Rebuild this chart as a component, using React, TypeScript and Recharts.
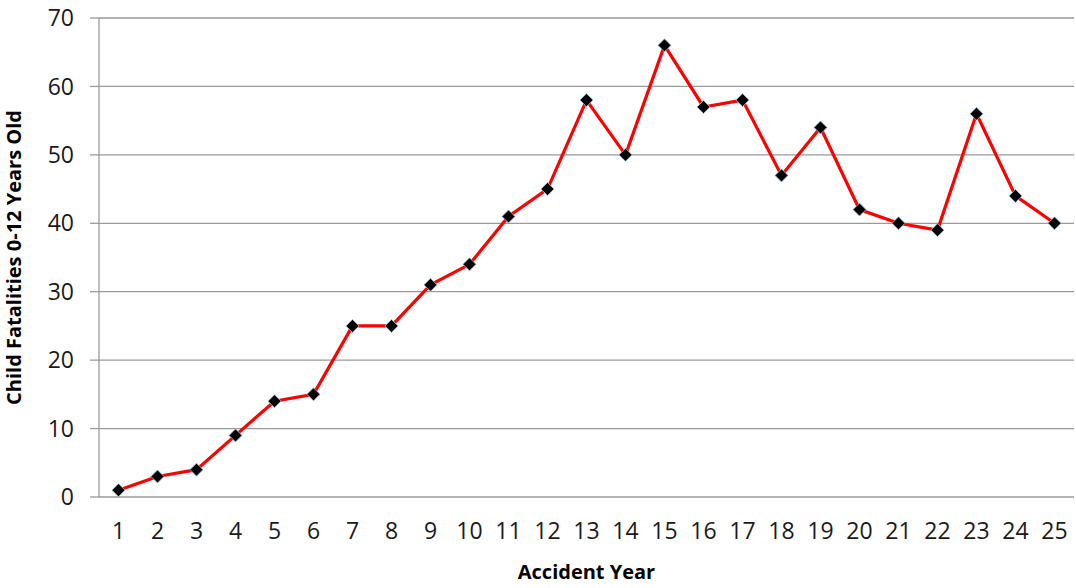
import React from "react";
import { LineChart, Line, XAxis, YAxis, CartesianGrid } from "recharts";

const years: number[] = [1, 2, 3, 4, 5, 6, 7, 8, 9, 10, 11, 12, 13, 14, 15, 16, 17, 18, 19, 20, 21, 22, 23, 24, 25];
const fatalities: number[] = [1, 3, 4, 9, 14, 15, 25, 25, 31, 34, 41, 45, 58, 50, 66, 57, 58, 47, 54, 42, 40, 39, 56, 44, 40];
const yTicks: number[] = [0, 10, 20, 30, 40, 50, 60, 70];
const boundaryTicks: number[] = [0.5, ...years.map((y) => y + 0.5)];

const data = years.map((year, i) => ({ year, value: fatalities[i] }));

const FONT = "'Open Sans', 'Noto Sans', sans-serif";
const GRID = "#9a9a9a";

const Diamond = (props: any) => {
  const { cx, cy } = props;
  if (cx == null || cy == null) return null;
  const r = 6.5;
  return (
    <path
      d={`M${cx},${cy - r}L${cx + r},${cy}L${cx},${cy + r}L${cx - r},${cy}Z`}
      fill="#000"
      stroke="#9fc3e6"
      strokeWidth={0.8}
    />
  );
};

export default function App() {
  return (
    <div style={{ position: "absolute", left: 0, top: 0, width: 1076, height: 588, background: "#fff" }}>
      <LineChart
        width={1076}
        height={588}
        data={data}
        margin={{ top: 18, right: 2, bottom: 0, left: 0 }}
      >
        <CartesianGrid vertical={false} stroke={GRID} strokeWidth={1.3} xAxisId="marks" />
        <XAxis
          xAxisId="marks"
          type="number"
          dataKey="year"
          domain={[0.5, 25.5]}
          ticks={boundaryTicks}
          tick={false}
          tickSize={9}
          tickLine={{ stroke: GRID, strokeWidth: 1.3 }}
          axisLine={{ stroke: GRID, strokeWidth: 1.3 }}
          height={0}
          interval={0}
        />
        <XAxis
          xAxisId="main"
          type="number"
          dataKey="year"
          domain={[0.5, 25.5]}
          ticks={years}
          interval={0}
          tickLine={false}
          axisLine={false}
          height={91}
          tickMargin={20}
          tick={{ fill: "#1a1a1a", fontSize: 23, fontFamily: FONT }}
          label={{
            value: "Accident Year",
            position: "insideBottom",
            offset: 9,
            style: { fill: "#000", fontSize: 20, fontWeight: 700, fontFamily: FONT },
          }}
        />
        <YAxis
          domain={[0, 70]}
          ticks={yTicks}
          interval={0}
          width={99}
          tickSize={9}
          tickMargin={16}
          tickLine={{ stroke: GRID, strokeWidth: 1.3 }}
          axisLine={{ stroke: GRID, strokeWidth: 1.3 }}
          tick={{ fill: "#1a1a1a", fontSize: 23, fontFamily: FONT }}
          label={{
            value: "Child Fatalities 0-12 Years Old",
            angle: -90,
            position: "insideLeft",
            offset: 14,
            style: { textAnchor: "middle", fill: "#000", fontSize: 20, fontWeight: 700, fontFamily: FONT },
          }}
        />
        <Line
          xAxisId="main"
          type="linear"
          dataKey="value"
          stroke="#ff0000"
          strokeWidth={3.2}
          dot={<Diamond />}
          activeDot={false}
          isAnimationActive={false}
        />
      </LineChart>
    </div>
  );
}
